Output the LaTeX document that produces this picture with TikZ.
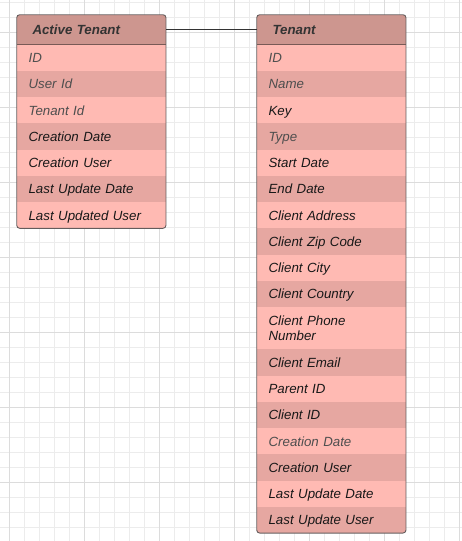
\documentclass[tikz,border=0pt]{standalone}
\usepackage{fontspec}
\setmainfont{Liberation Sans}
\definecolor{hdr}{RGB}{205,150,143}
\definecolor{rowA}{RGB}{255,186,179}
\definecolor{rowB}{RGB}{230,167,161}
\definecolor{txtdark}{RGB}{24,24,24}
\definecolor{txtgray}{RGB}{78,78,78}
\definecolor{txthdr}{RGB}{51,51,51}
\definecolor{gridminor}{RGB}{236,236,236}
\definecolor{gridmajor}{RGB}{220,220,220}
\definecolor{edge}{RGB}{100,92,92}
\definecolor{sepline}{RGB}{120,90,86}
\begin{document}
\begin{tikzpicture}[x=1pt,y=-1pt,
  cell/.style={rectangle, anchor=north west, minimum width=149.3pt, text width=125.9pt,
    inner xsep=11.7pt, inner ysep=0pt, align=left,
    font=\fontsize{13.3}{15.7}\selectfont\itshape},
  oneline/.style={text height=9.6pt, text depth=0pt},
  headcell/.style={rectangle, anchor=north west, minimum width=149.3pt, text width=118.1pt,
    minimum height=29.6pt, inner xsep=15.6pt, inner ysep=0pt, align=left, fill=hdr,
    text height=9.6pt, text depth=0pt,
    text=txthdr, font=\fontsize{13.3}{15.7}\selectfont\bfseries\itshape},
  border/.style={draw=edge, line width=0.9pt, rounded corners=3pt},
  separator/.style={draw=sepline, line width=1pt},
  link/.style={draw=black!80, line width=1.1pt}]
\useasboundingbox (0,0) rectangle (462,541);
\fill[white] (0,0) rectangle (462,541);
% grid
\foreach \k in {0,...,30} \draw[gridminor, line width=0.8pt] (9.3+15*\k,0) -- (9.3+15*\k,541);
\foreach \k in {0,...,35} \draw[gridminor, line width=0.8pt] (0,2.3+15*\k) -- (462,2.3+15*\k);
\foreach \k in {0,...,6} \draw[gridmajor, line width=0.8pt] (9.3+75*\k,0) -- (9.3+75*\k,541);
\foreach \k in {0,...,6} \draw[gridmajor, line width=0.8pt] (0,32.3+75*\k) -- (462,32.3+75*\k);

% Active Tenant table
\begin{scope}
\clip[rounded corners=3pt] (16.7,14.7) rectangle (166,228.3);
\node[headcell] (at-h) at (16.7,14.7) {Active Tenant};
\foreach [count=\i] \txt/\tc/\fc in {ID/txtgray/rowA, User Id/txtgray/rowB, Tenant Id/txtgray/rowA,
  Creation Date/txtdark/rowB, Creation User/txtdark/rowA, Last Update Date/txtdark/rowB,
  Last Updated User/txtdark/rowA}
{
  \node[cell, oneline, fill=\fc, text=\tc, minimum height=26.29pt] (at-\i) at (16.7,{44.3+(\i-1)*26.29}) {\txt};
}
\end{scope}
\draw[separator] (at-h.south west) -- (at-h.south east);
\draw[border] (16.7,14.7) rectangle (166,228.3);

% Tenant table
\begin{scope}
\clip[rounded corners=3pt] (256.7,14.7) rectangle (406,533.06);
\node[headcell] (t-h) at (256.7,14.7) {Tenant};
\foreach [count=\i] \yy/\txt/\tc/\fc in {
  44.3/ID/txtgray/rowA,
  70.58/Name/txtgray/rowB,
  96.86/Key/txtdark/rowA,
  123.14/Type/txtgray/rowB,
  149.42/Start Date/txtdark/rowA,
  175.70/End Date/txtdark/rowB,
  201.98/Client Address/txtdark/rowA,
  228.26/Client Zip Code/txtdark/rowB,
  254.54/Client City/txtdark/rowA,
  280.82/Client Country/txtdark/rowB}
{
  \node[cell, oneline, fill=\fc, text=\tc, minimum height=26.28pt] (t-\i) at (256.7,\yy) {\txt};
}
\node[cell, fill=rowA, text=txtdark, minimum height=42pt] (t-11) at (256.7,307.10) {Client Phone\\Number};
\foreach [count=\j from 12] \yy/\txt/\tc/\fc in {
  349.10/Client Email/txtdark/rowB,
  375.38/Parent ID/txtdark/rowA,
  401.66/Client ID/txtdark/rowB,
  427.94/Creation Date/txtgray/rowA,
  454.22/Creation User/txtdark/rowB,
  480.50/Last Update Date/txtdark/rowA,
  506.78/Last Update User/txtdark/rowB}
{
  \node[cell, oneline, fill=\fc, text=\tc, minimum height=26.28pt] (t-\j) at (256.7,\yy) {\txt};
}
\end{scope}
\draw[separator] (t-h.south west) -- (t-h.south east);
\draw[border] (256.7,14.7) rectangle (406,533.06);

% connector
\draw[link] (at-h.east) -- (t-h.west);
\end{tikzpicture}
\end{document}
